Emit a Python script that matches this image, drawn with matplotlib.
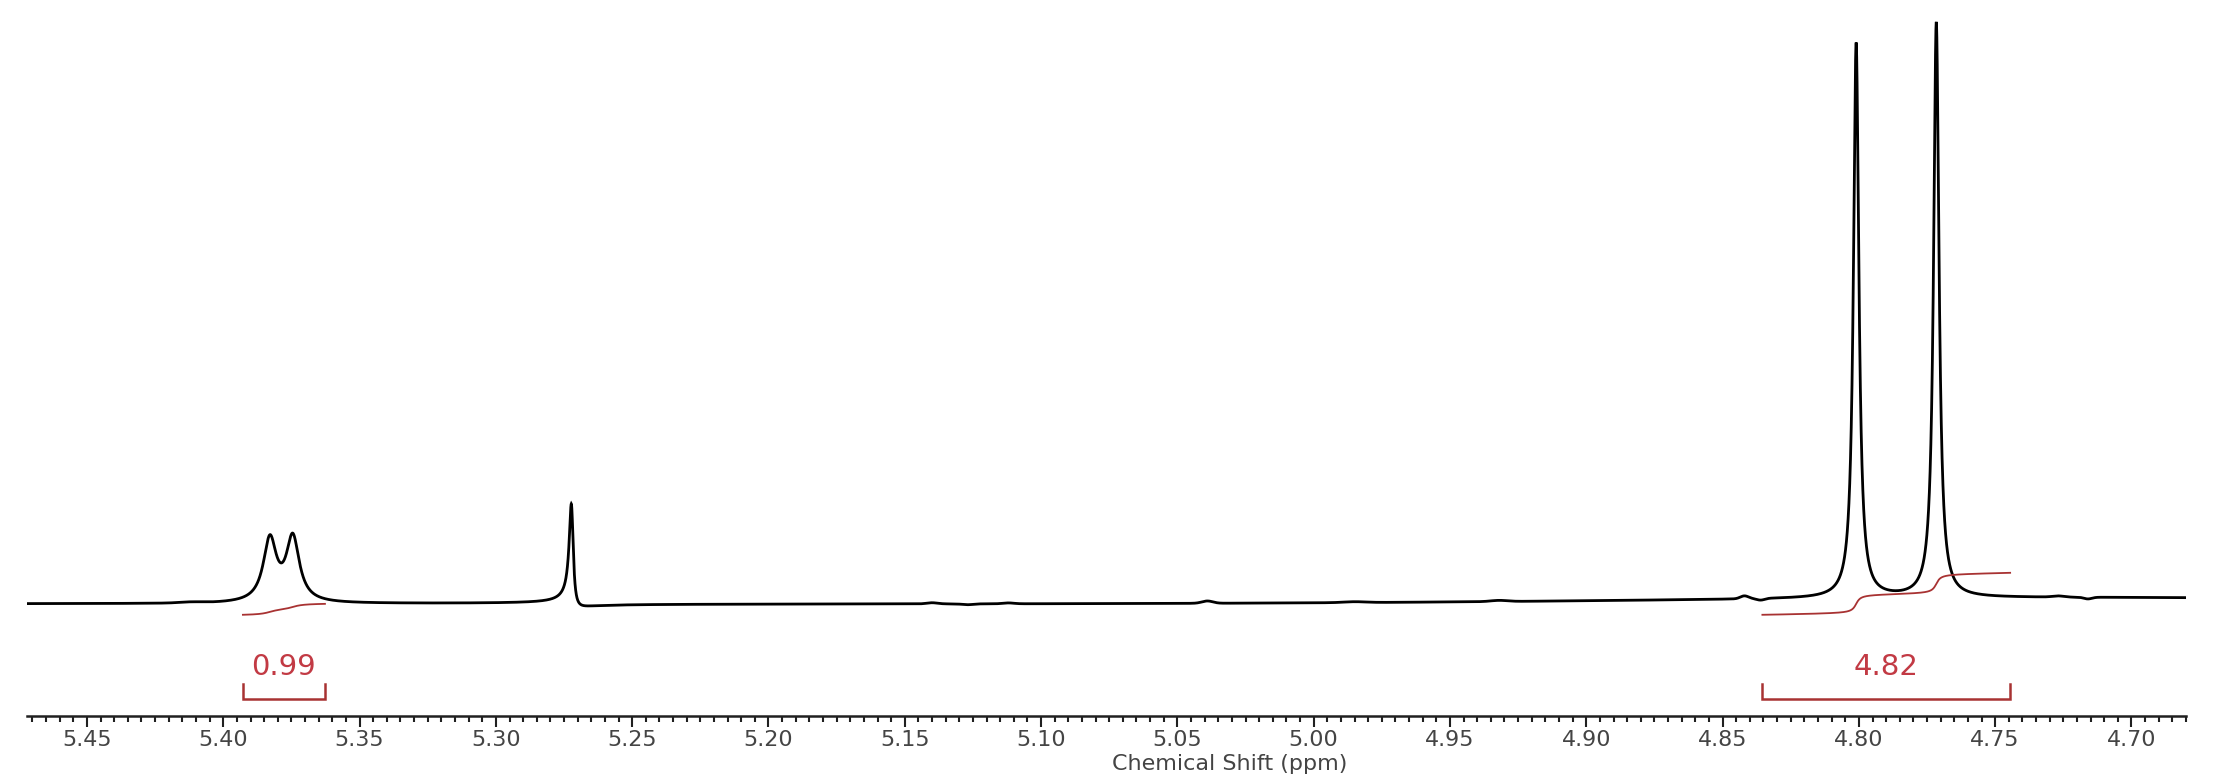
import numpy as np
import matplotlib
matplotlib.use("Agg")
import matplotlib.pyplot as plt
from matplotlib.ticker import MultipleLocator, FormatStrFormatter

# ---------------- data ----------------
# peaks: chemical shift (ppm), height (a.u.), half width (ppm), dispersive fraction
peak_ppm = [5.3829, 5.3745, 5.2722, 4.8010, 4.7716]
peak_height = [10.8, 11.1, 17.0, 96.5, 100.0]
peak_hwhm = [0.0029, 0.0029, 0.0009, 0.0012, 0.0012]
peak_disp = [0.0, 0.0, 0.30, 0.0, 0.0]

# small baseline ripples: ppm, amplitude, width
ripple_ppm = [5.412, 5.140, 5.127, 5.112, 5.039, 4.985, 4.932, 4.842, 4.836, 4.727, 4.716]
ripple_amp = [0.15, 0.2, -0.15, 0.15, 0.4, 0.15, 0.2, 0.5, -0.3, 0.2, -0.3]
ripple_w = [0.004, 0.002, 0.002, 0.002, 0.002, 0.004, 0.003, 0.0015, 0.0015, 0.002, 0.0015]

# baseline drift: broad hump (center ppm, amplitude, width ppm)
drift_center, drift_amp, drift_width = 4.72, 1.1, 0.15

# integrals: start ppm, end ppm, label, curve start level, curve rise
integral_start = [5.3928, 4.8354]
integral_end = [5.3627, 4.7445]
integral_label = ["0.99", "4.82"]
integral_level = [-1.9, -1.9]
integral_rise = [1.9, 7.3]

tick_major = 0.05
tick_minor = 0.005
x_left, x_right = 5.472, 4.680

# ---------------- spectrum ----------------
x = np.linspace(x_left, x_right, 40000)
y = np.zeros_like(x)
for c, h, g, d in zip(peak_ppm, peak_height, peak_hwhm, peak_disp):
    u = (x - c) / g
    y += h * (1 + d * u) / (1 + u ** 2)
for c, a, w in zip(ripple_ppm, ripple_amp, ripple_w):
    y += a * np.exp(-0.5 * ((x - c) / w) ** 2)
y += drift_amp * np.exp(-0.5 * ((x - drift_center) / drift_width) ** 2)

# ---------------- figure ----------------
W, H = 2213, 777
fig = plt.figure(figsize=(W / 100, H / 100), dpi=100)
ax = fig.add_axes([27 / W, 61 / H, (2186 - 27) / W, 716 / H])
ax.plot(x, y, color="black", lw=2.0, solid_joinstyle="miter")
ax.set_xlim(x_left, x_right)
ax.set_ylim(-19.5, 105.0)

red_line = "#a83232"
red_text = "#c23a44"
font = "DejaVu Sans"

for s, e, lab, lv, rise in zip(integral_start, integral_end, integral_label,
                              integral_level, integral_rise):
    m = (x <= s) & (x >= e)
    xs = x[m]
    cum = np.cumsum(y[m])
    cum = (cum - cum[0]) / (cum[-1] - cum[0])
    ax.plot(xs, lv + rise * cum, color=red_line, lw=1.3)
    # bracket
    ax.plot([s, s, e, e], [-13.9, -16.6, -16.6, -13.9], color=red_line, lw=1.8,
            solid_joinstyle="miter")
    ax.text((s + e) / 2, -11.0, lab, color=red_text, fontsize=21,
            family=font, ha="center", va="center")

for sp in ["left", "right", "top"]:
    ax.spines[sp].set_visible(False)
ax.spines["bottom"].set_linewidth(1.8)
ax.spines["bottom"].set_color("#202020")
ax.set_yticks([])
ax.xaxis.set_major_locator(MultipleLocator(tick_major))
ax.xaxis.set_minor_locator(MultipleLocator(tick_minor))
ax.xaxis.set_major_formatter(FormatStrFormatter("%.2f"))
ax.tick_params(axis="x", which="major", direction="out", length=8, width=1.5,
               color="#202020", labelsize=16, labelcolor="#444444", pad=2)
ax.tick_params(axis="x", which="minor", direction="out", length=4.5, width=1.5,
               color="#202020")
for lbl in ax.get_xticklabels():
    lbl.set_family(font)
ax.set_xlabel("Chemical Shift (ppm)", fontsize=16, color="#444444", family=font)
ax.xaxis.set_label_coords((1230 - 27) / (2186 - 27), -(764 - 716) / 716)
ax.xaxis.label.set_va("center")

fig.savefig("out.png", dpi=100)
